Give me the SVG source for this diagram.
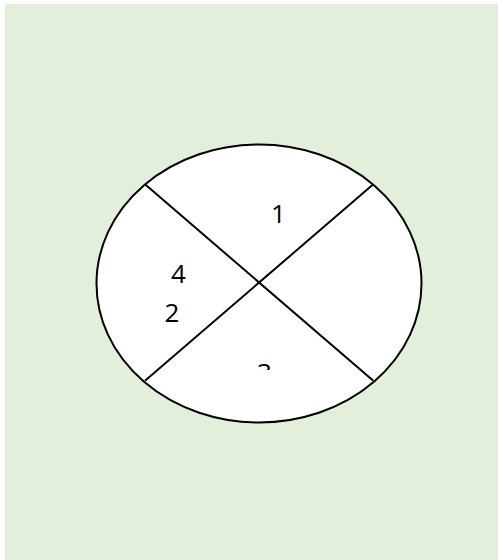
<svg xmlns="http://www.w3.org/2000/svg" width="498" height="560" viewBox="0 0 498 560">
<style>
.shape{fill:#ffffff;stroke:#000000;stroke-width:2}
.ln{stroke:#000000;stroke-width:2;fill:none}
.lbl{font-family:"Open Sans","Liberation Sans",sans-serif;font-size:26px;fill:#000000;text-anchor:middle}
</style>
<defs>
<clipPath id="clip3"><rect x="230" y="340" width="70" height="30"/></clipPath>
</defs>
<rect id="background" x="5" y="4" width="493" height="556" fill="#e2efda"/>
<g id="circle">
<ellipse class="shape" cx="259" cy="283.5" rx="162.5" ry="139"/>
</g>
<g id="connectors">
<line class="ln" x1="145" y1="184.3" x2="373.3" y2="380.7"/>
<line class="ln" x1="373.3" y1="184.3" x2="145" y2="380.7"/>
</g>
<g id="label1"><text class="lbl" x="278.5" y="222.7">1</text></g>
<g id="label4"><text class="lbl" x="178.5" y="283">4</text></g>
<g id="label2"><text class="lbl" x="172" y="321.7">2</text></g>
<g id="label3"><text class="lbl" x="264.5" y="381.5" clip-path="url(#clip3)">3</text></g>
</svg>
